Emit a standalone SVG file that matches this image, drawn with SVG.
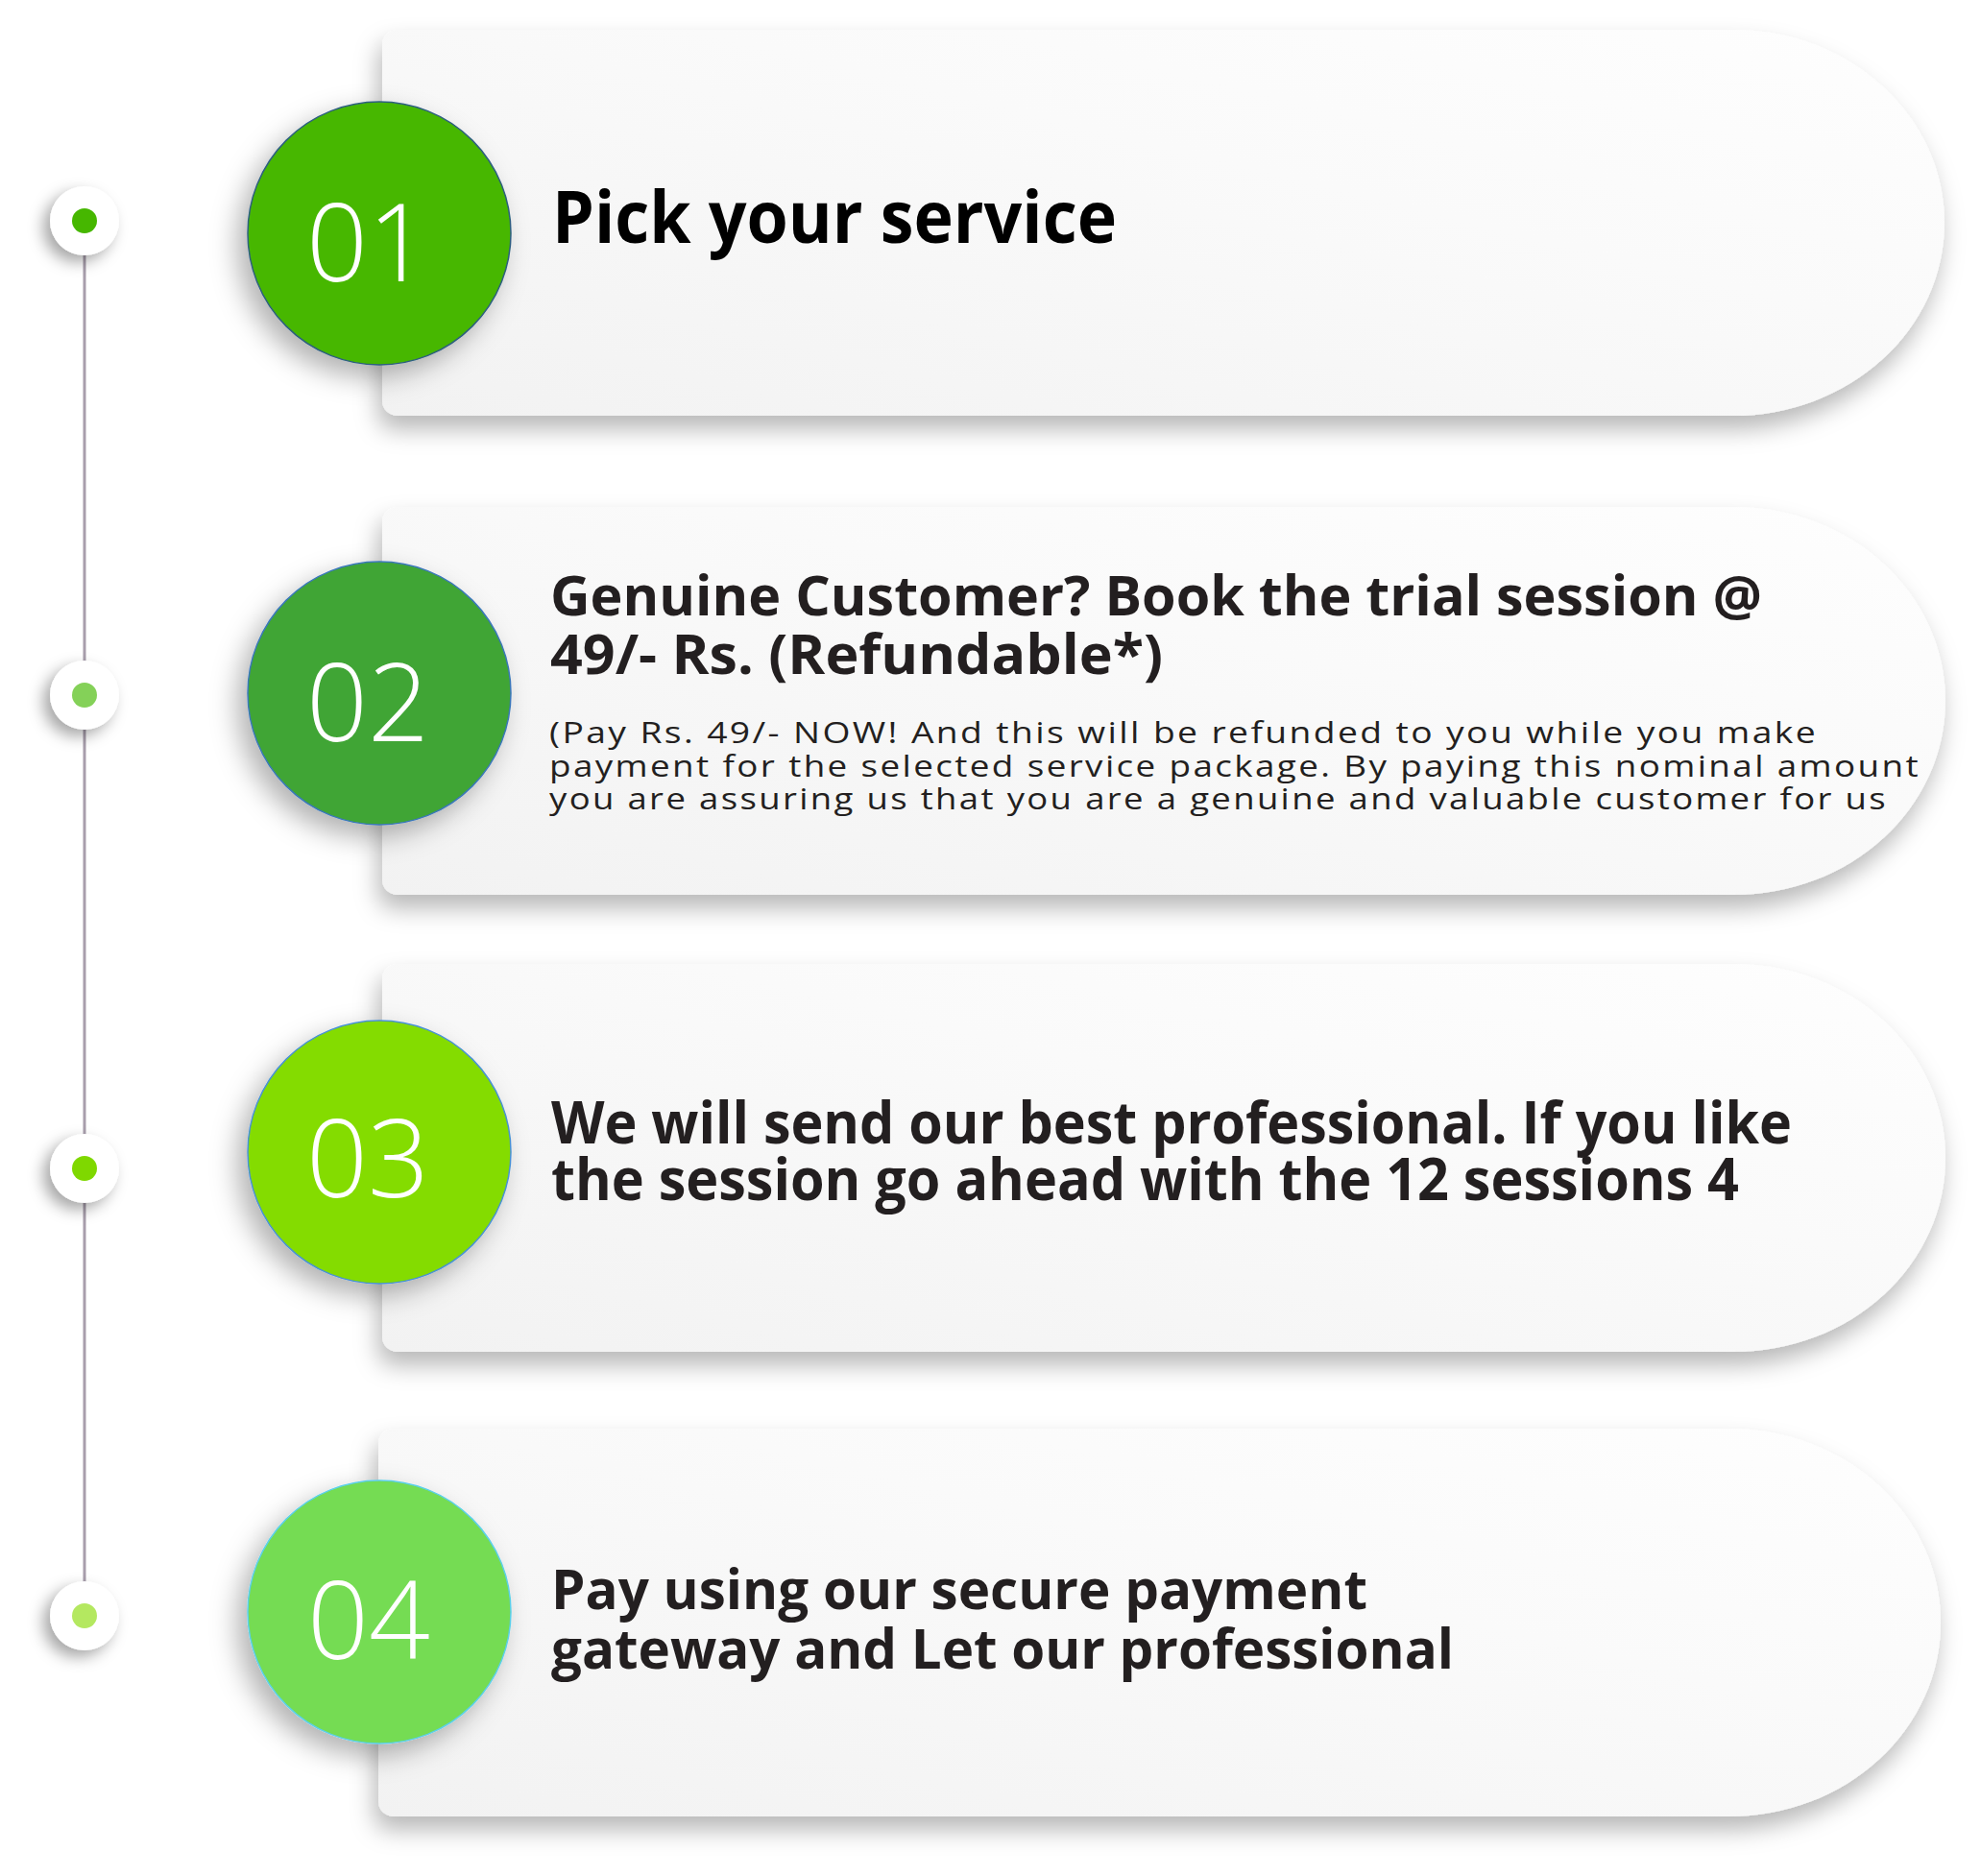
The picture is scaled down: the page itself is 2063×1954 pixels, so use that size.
<svg xmlns="http://www.w3.org/2000/svg" width="2063" height="1954" viewBox="0 0 2063 1954">
  <defs>
    <linearGradient id="cardGrad" x1="0" y1="1" x2="1" y2="0">
      <stop offset="0" stop-color="#f2f2f2"/>
      <stop offset="0.6" stop-color="#fafafa"/>
      <stop offset="1" stop-color="#fefefe"/>
    </linearGradient>
    <filter id="cardShadow" x="-10%" y="-20%" width="120%" height="150%">
      <feDropShadow dx="-4" dy="14" stdDeviation="12" flood-color="#000" flood-opacity="0.28"/>
    </filter>
    <filter id="circleShadow" x="-30%" y="-30%" width="160%" height="160%">
      <feDropShadow dx="-10" dy="12" stdDeviation="14" flood-color="#000" flood-opacity="0.3"/>
    </filter>
    <filter id="dotShadow" x="-60%" y="-60%" width="220%" height="220%">
      <feDropShadow dx="-7" dy="7" stdDeviation="8" flood-color="#000" flood-opacity="0.35"/>
    </filter>
  </defs>
  <style>
    .card { fill: url(#cardGrad); filter: url(#cardShadow); }
    .badge { filter: url(#circleShadow); stroke-width: 1.5; }
    .num { font-family: "Open Sans", "Liberation Sans", sans-serif; font-weight: 300; font-size: 112px; fill: #ffffff; text-anchor: middle; }
    .title { font-family: "Open Sans", "Liberation Sans", sans-serif; font-weight: 700; fill: #231f20; }
    .body { font-family: "Open Sans", "Liberation Sans", sans-serif; font-weight: 400; font-size: 31px; letter-spacing: 2px; fill: #231f20; }
    .dotOuter { fill: #ffffff; filter: url(#dotShadow); }
    .timeline { stroke: #a89eac; stroke-width: 3; fill: none; }
  </style>

  <rect width="2063" height="1954" fill="#ffffff"/>

  <g id="connectors">
    <line class="timeline" x1="88" y1="230" x2="88" y2="1683"/>
  </g>

  <g id="dot-1">
    <circle class="dotOuter" cx="88" cy="230" r="36"/>
    <circle cx="88" cy="230" r="13" fill="#46b700"/>
  </g>
  <g id="dot-2">
    <circle class="dotOuter" cx="88" cy="724" r="36"/>
    <circle cx="88" cy="724" r="13" fill="#84d158"/>
  </g>
  <g id="dot-3">
    <circle class="dotOuter" cx="88" cy="1217" r="36"/>
    <circle cx="88" cy="1217" r="13" fill="#7fd800"/>
  </g>
  <g id="dot-4">
    <circle class="dotOuter" cx="88" cy="1683" r="36"/>
    <circle cx="88" cy="1683" r="13" fill="#b4e860"/>
  </g>

  <g id="step-1">
    <path class="card" d="M414,31 H1805 A220,201 0 0 1 1805,433 H414 A16,16 0 0 1 398,417 V47 A16,16 0 0 1 414,31 Z"/>
    <circle class="badge" cx="395" cy="243" r="137" fill="#46b700" stroke="#2d5f7e"/>
    <text class="num" x="383" y="293">01</text>
    <text class="title" x="575" y="253" font-size="76" style="fill:#000000" textLength="588" lengthAdjust="spacingAndGlyphs">Pick your service</text>
  </g>

  <g id="step-2">
    <path class="card" d="M414,528 H1806 A220,202 0 0 1 1806,932 H414 A16,16 0 0 1 398,916 V544 A16,16 0 0 1 414,528 Z"/>
    <circle class="badge" cx="395" cy="722" r="137" fill="#3fa535" stroke="#3b78b8"/>
    <text class="num" x="383" y="772">02</text>
    <text class="title" x="573" y="641" font-size="57" textLength="1262" lengthAdjust="spacingAndGlyphs">Genuine Customer? Book the trial session @</text>
    <text class="title" x="573" y="702" font-size="57" textLength="638" lengthAdjust="spacingAndGlyphs">49/- Rs. (Refundable*)</text>
    <text class="body" x="572" y="774" textLength="1321" lengthAdjust="spacingAndGlyphs">(Pay Rs. 49/- NOW! And this will be refunded to you while you make</text>
    <text class="body" x="572" y="809" textLength="1428" lengthAdjust="spacingAndGlyphs">payment for the selected service package. By paying this nominal amount</text>
    <text class="body" x="572" y="843" textLength="1394" lengthAdjust="spacingAndGlyphs">you are assuring us that you are a genuine and valuable customer for us</text>
  </g>

  <g id="step-3">
    <path class="card" d="M414,1004 H1806 A220,202 0 0 1 1806,1408 H414 A16,16 0 0 1 398,1392 V1020 A16,16 0 0 1 414,1004 Z"/>
    <circle class="badge" cx="395" cy="1200" r="137" fill="#84dc00" stroke="#4a92d2"/>
    <text class="num" x="383" y="1247">03</text>
    <text class="title" x="574" y="1191" font-size="60" textLength="1292" lengthAdjust="spacingAndGlyphs">We will send our best professional. If you like</text>
    <text class="title" x="574" y="1250" font-size="60" textLength="1237" lengthAdjust="spacingAndGlyphs">the session go ahead with the 12 sessions 4</text>
  </g>

  <g id="step-4">
    <path class="card" d="M410,1488 H1801 A220,202 0 0 1 1801,1892 H410 A16,16 0 0 1 394,1876 V1504 A16,16 0 0 1 410,1488 Z"/>
    <circle class="badge" cx="395" cy="1679" r="137" fill="#74dc52" stroke="#5cd0e8"/>
    <text class="num" x="384" y="1728">04</text>
    <text class="title" x="574" y="1676" font-size="57" textLength="850" lengthAdjust="spacingAndGlyphs">Pay using our secure payment</text>
    <text class="title" x="574" y="1738" font-size="57" textLength="940" lengthAdjust="spacingAndGlyphs">gateway and Let our professional</text>
  </g>
</svg>
